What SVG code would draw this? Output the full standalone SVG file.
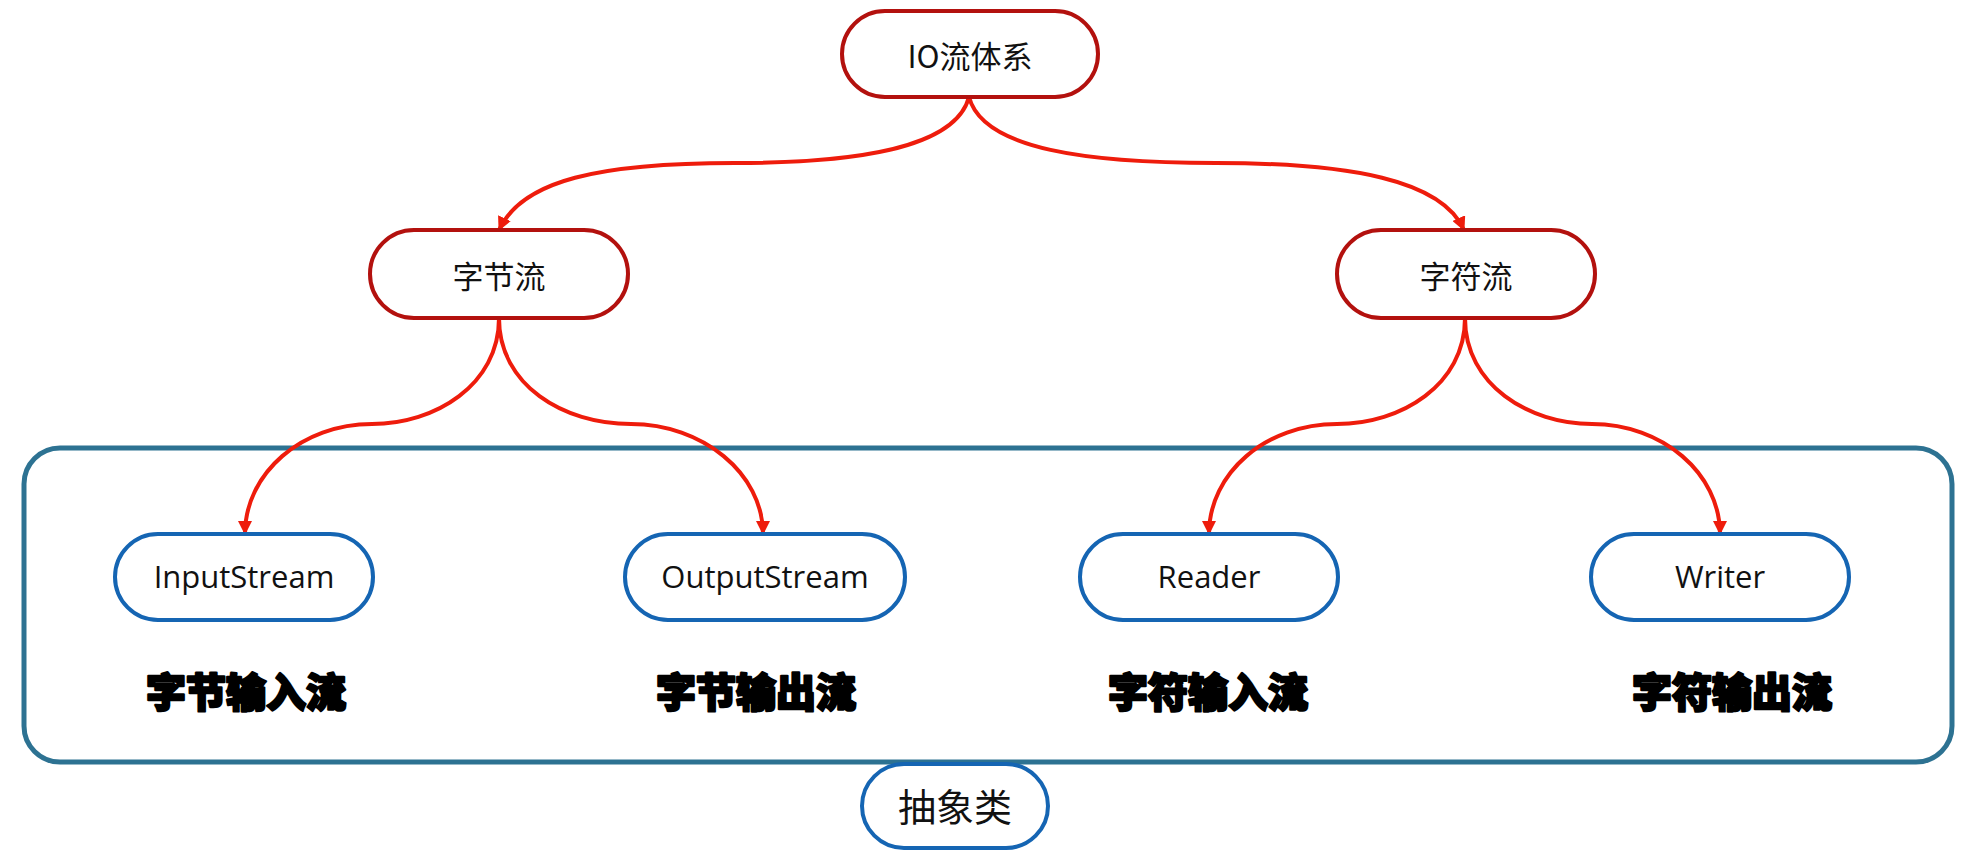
<svg xmlns="http://www.w3.org/2000/svg" width="1974" height="865" viewBox="0 0 1974 865">
  <defs>
    <marker id="arrow" viewBox="0 0 14 14" refX="13" refY="7" markerWidth="14" markerHeight="14" markerUnits="userSpaceOnUse" orient="auto">
      <path d="M0,0 L14,7 L0,14 Z" fill="#ee1c0c"/>
    </marker>
    <style>
      .red { fill: #ffffff; stroke: #b3110e; stroke-width: 4; }
      .blue { fill: #ffffff; stroke: #1565b3; stroke-width: 4; }
      .cjk { font-family: "Noto Sans CJK SC", "Noto Sans", sans-serif; fill: #111; text-anchor: middle; dominant-baseline: central; }
      .lat { font-family: "Open Sans", "Noto Sans", sans-serif; font-size: 31px; fill: #111; text-anchor: middle; }
      .heavy { font-family: "Noto Sans CJK SC", sans-serif; font-size: 40px; font-weight: 900; fill: #000; stroke: #000; stroke-width: 2.4; stroke-linejoin: round; text-anchor: middle; dominant-baseline: central; }
      .conn { fill: none; stroke: #ee1c0c; stroke-width: 4; }
    </style>
  </defs>
  <rect x="0" y="0" width="1974" height="865" fill="#ffffff"/>

  <g id="container">
    <rect x="24" y="448" width="1928" height="314" rx="36" ry="36" fill="none" stroke="#2d7292" stroke-width="5"/>
  </g>

  <g id="connectors">
    <path class="conn" marker-end="url(#arrow)" d="M969,97 C955,150 850,163 735,163 C600,163 522,180 499,230"/>
    <path class="conn" marker-end="url(#arrow)" d="M969,97 C983,150 1090,163 1216,163 C1350,163 1442,180 1464,230"/>
    <path class="conn" marker-end="url(#arrow)" d="M499,318 C499,385 435,424 372,424 C302,424 245,473 245,534"/>
    <path class="conn" marker-end="url(#arrow)" d="M499,318 C499,385 563,424 631,424 C702,424 763,473 763,534"/>
    <path class="conn" marker-end="url(#arrow)" d="M1465,318 C1465,385 1401,424 1337,424 C1266,424 1209,473 1209,534"/>
    <path class="conn" marker-end="url(#arrow)" d="M1465,318 C1465,385 1529,424 1592,424 C1662,424 1720,473 1720,534"/>
  </g>

  <g id="node-io">
    <rect class="red" x="842" y="11" width="256" height="86" rx="43"/>
    <text class="cjk" x="970" y="54" font-size="31">IO流体系</text>
  </g>
  <g id="node-byte">
    <rect class="red" x="370" y="230" width="258" height="88" rx="44"/>
    <text class="cjk" x="499" y="274" font-size="31">字节流</text>
  </g>
  <g id="node-char">
    <rect class="red" x="1337" y="230" width="258" height="88" rx="44"/>
    <text class="cjk" x="1466" y="274" font-size="31">字符流</text>
  </g>

  <g id="node-inputstream">
    <rect class="blue" x="115" y="534" width="258" height="86" rx="43"/>
    <text class="lat" x="244" y="588">InputStream</text>
  </g>
  <g id="node-outputstream">
    <rect class="blue" x="625" y="534" width="280" height="86" rx="43"/>
    <text class="lat" x="765" y="588">OutputStream</text>
  </g>
  <g id="node-reader">
    <rect class="blue" x="1080" y="534" width="258" height="86" rx="43"/>
    <text class="lat" x="1209" y="588">Reader</text>
  </g>
  <g id="node-writer">
    <rect class="blue" x="1591" y="534" width="258" height="86" rx="43"/>
    <text class="lat" x="1720" y="588">Writer</text>
  </g>

  <g id="labels">
    <text class="heavy" x="246" y="690">字节输入流</text>
    <text class="heavy" x="756" y="690">字节输出流</text>
    <text class="heavy" x="1208" y="690">字符输入流</text>
    <text class="heavy" x="1732" y="690">字符输出流</text>
  </g>

  <g id="node-abstract">
    <rect class="blue" x="862" y="764" width="186" height="84" rx="42"/>
    <text class="cjk" x="955" y="804" font-size="38">抽象类</text>
  </g>
</svg>
